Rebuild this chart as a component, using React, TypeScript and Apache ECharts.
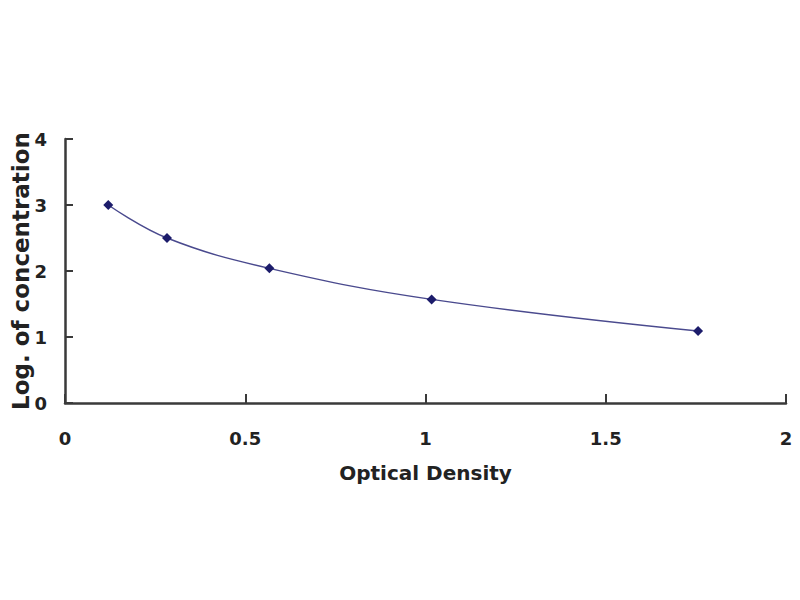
import React, { useEffect, useRef } from "react";
import * as echarts from "echarts";

const odValues = [0.12, 0.283, 0.567, 1.017, 1.756];
const logConc = [3.0, 2.5, 2.04, 1.57, 1.09];
const xTicks = [0, 0.5, 1, 1.5, 2];
const yTicks = [0, 1, 2, 3, 4];

export default function App() {
  const ref = useRef<HTMLDivElement>(null);
  useEffect(() => {
    if (!ref.current) return;
    const chart = echarts.init(ref.current, undefined, { renderer: "svg" });
    const pts = odValues.map((x, i) => [x, logConc[i]]);
    const font = "'DejaVu Sans', 'Liberation Sans', Arial, sans-serif";
    chart.setOption({
      animation: false,
      backgroundColor: "#ffffff",
      grid: { left: 65, right: 14, top: 139, bottom: 197, outerBoundsMode: "none" },
      xAxis: {
        type: "value",
        min: xTicks[0],
        max: xTicks[xTicks.length - 1],
        interval: 0.5,
        name: "Optical Density",
        nameLocation: "middle",
        nameGap: 60,
        nameMoveOverlap: false,
        nameTextStyle: { fontFamily: font, fontWeight: "bold", fontSize: 20, color: "#222222" },
        axisLine: { show: true, lineStyle: { color: "#3a3a3a", width: 2.5 } },
        axisTick: { show: true, inside: true, length: 9, lineStyle: { color: "#3a3a3a", width: 2 } },
        axisLabel: { margin: 26, fontFamily: font, fontWeight: "bold", fontSize: 18, color: "#222222" },
        splitLine: { show: false },
      },
      yAxis: {
        type: "value",
        min: yTicks[0],
        max: yTicks[yTicks.length - 1],
        interval: 1,
        name: "Log. of concentration",
        nameLocation: "middle",
        nameGap: 33,
        nameMoveOverlap: false,
        nameTextStyle: { fontFamily: font, fontWeight: "bold", fontSize: 23, color: "#222222" },
        axisLine: { show: true, lineStyle: { color: "#3a3a3a", width: 2.5 } },
        axisTick: { show: true, inside: true, length: 8, lineStyle: { color: "#3a3a3a", width: 2 } },
        axisLabel: { margin: 18, fontFamily: font, fontWeight: "bold", fontSize: 18, color: "#222222" },
        splitLine: { show: false },
      },
      series: [
        {
          type: "line",
          data: pts,
          smooth: 0.4,
          symbol: "diamond",
          symbolSize: 10,
          itemStyle: { color: "#1c1c6b" },
          lineStyle: { color: "#4a4a8e", width: 1.5 },
        },
      ],
    });
    return () => chart.dispose();
  }, []);
  return (
    <div
      ref={ref}
      style={{ position: "fixed", left: 0, top: 0, width: 800, height: 600 }}
    />
  );
}
